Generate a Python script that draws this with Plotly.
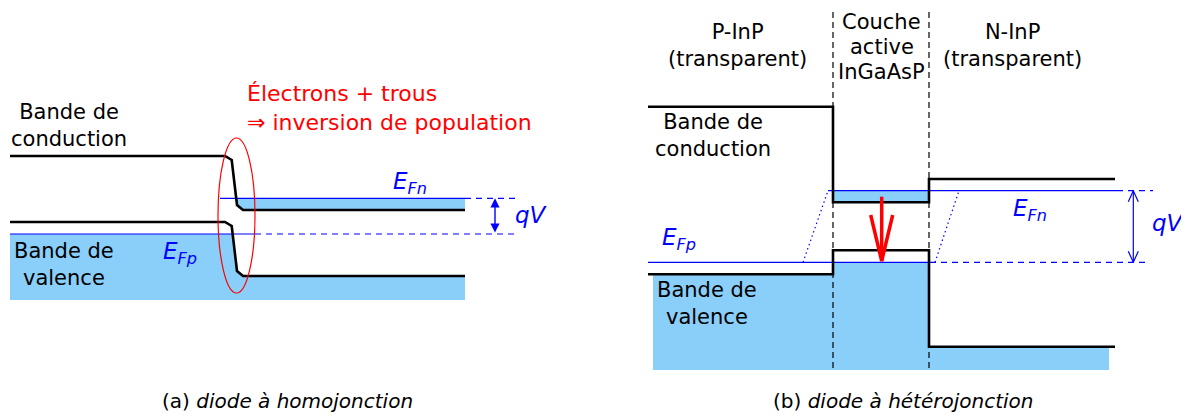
import numpy as np
import plotly.graph_objects as go

# ---------------- Panel (a): homojunction (schematic units) ----------------
a_band_x = [10, 225, 231.7, 237, 243, 465]          # break points of band profile
a_cb = [156, 156, 160, 205, 210, 210]               # conduction band level
a_vb = [222, 222, 226, 271, 276, 276]               # valence band level
a_efn = 198.3                                       # quasi-Fermi level (electrons)
a_efp = 234.0                                       # quasi-Fermi level (holes)
a_efn_x = [220, 465, 517]                           # solid start, solid end, dashed end
a_efp_x = [10, 255, 517]
a_fill_bottom = 300
a_qv_x = 495
a_ellipse = [218, 138, 255, 293]

# ---------------- Panel (b): heterojunction ----------------
b_region_x = [648, 833, 929, 1115]                  # P-InP | active | N-InP
b_cb = [106.7, 202.3, 179.0]
b_vb = [274.3, 250.3, 346.7]
b_efn = 190.7
b_efp = 262.3
b_efn_x = [828, 1117, 1153]
b_efp_x = [648, 930, 1145]
b_fill_x = [653, 1109]
b_fill_bottom = 370
b_dotted = [[803, 828], [935, 959]]                 # slanted dotted transitions (bottom x, top x)
b_qv_x = 1133.3
b_emission_x = 881.7
b_emission_y = [196.7, 261.0]
b_sep_y = [2, 370]

FILL = "#89CFFA"
BLUE = "#0000FF"
FONT = "DejaVu Sans"
PAGE_MARGIN = 8   # default body margin of the written html page

fig = go.Figure()


def poly(xs, top, bot):
    return list(xs) + list(xs[::-1]), list(top) + list(bot[::-1])


# ---- (a) fills ----
xs = np.union1d(np.linspace(a_band_x[0], a_band_x[-1], 3000), a_band_x)
vb_i = np.interp(xs, a_band_x, a_vb)
cb_i = np.interp(xs, a_band_x, a_cb)
top = np.maximum(vb_i, a_efp)
px, py = poly(xs, top, np.full_like(xs, a_fill_bottom))
fig.add_trace(go.Scatter(x=px, y=py, fill="toself", fillcolor=FILL, mode="none", hoverinfo="skip"))
m = cb_i >= a_efn
xc = xs[m]
px, py = poly(xc, np.full_like(xc, a_efn), cb_i[m])
fig.add_trace(go.Scatter(x=px, y=py, fill="toself", fillcolor=FILL, mode="none", hoverinfo="skip"))

# ---- (b) fills ----
def step(xb, levels):
    x, y = [], []
    for i, lv in enumerate(levels):
        x += [xb[i], xb[i + 1]]
        y += [lv, lv]
    return x, y

vb_top = [max(v, b_efp) for v in b_vb]
fx = [b_fill_x[0]] + b_region_x[1:3] + [b_fill_x[1]]
sx, sy = step(fx, vb_top)
fig.add_trace(go.Scatter(x=sx + [fx[-1], fx[0]], y=sy + [b_fill_bottom, b_fill_bottom],
                         fill="toself", fillcolor=FILL, mode="none", hoverinfo="skip"))
fig.add_trace(go.Scatter(x=[b_region_x[1], b_region_x[2], b_region_x[2], b_region_x[1]],
                         y=[b_efn, b_efn, b_cb[1], b_cb[1]],
                         fill="toself", fillcolor=FILL, mode="none", hoverinfo="skip"))

# ---- Fermi levels ----
def fermi(xr, y):
    fig.add_trace(go.Scatter(x=xr[:2], y=[y, y], mode="lines",
                             line=dict(color=BLUE, width=1.2), hoverinfo="skip"))
    fig.add_trace(go.Scatter(x=xr[1:], y=[y, y], mode="lines",
                             line=dict(color=BLUE, width=1.2, dash="6px,5px"), hoverinfo="skip"))

fermi(a_efn_x, a_efn)
fermi(a_efp_x, a_efp)
fermi(b_efn_x, b_efn)
fermi(b_efp_x, b_efp)
for xb, xt in b_dotted:
    fig.add_trace(go.Scatter(x=[xb, xt], y=[b_efp, b_efn], mode="lines",
                             line=dict(color=BLUE, width=1.2, dash="1.5px,3px"), hoverinfo="skip"))

# ---- separators (b) ----
for xv in b_region_x[1:3]:
    fig.add_trace(go.Scatter(x=[xv, xv], y=b_sep_y, mode="lines",
                             line=dict(color="black", width=1.2, dash="6px,4px"), hoverinfo="skip"))

# ---- band edges ----
for lv in (a_cb, a_vb):
    fig.add_trace(go.Scatter(x=a_band_x, y=lv, mode="lines",
                             line=dict(color="black", width=2.6), hoverinfo="skip"))
for lv in (b_cb, b_vb):
    sx, sy = step(b_region_x, lv)
    fig.add_trace(go.Scatter(x=sx, y=sy, mode="lines",
                             line=dict(color="black", width=2.6), hoverinfo="skip"))

# ---- qV arrows ----
fig.add_annotation(x=a_qv_x, y=a_efn, ax=a_qv_x, ay=a_efp, axref="x", ayref="y",
                   text="", showarrow=True, arrowhead=2, arrowside="end+start",
                   arrowsize=1.3, arrowwidth=1.4, arrowcolor=BLUE)

hw, hl = 5, 11
fig.add_trace(go.Scatter(x=[b_qv_x, b_qv_x], y=[b_efn, b_efp], mode="lines",
                         line=dict(color=BLUE, width=1.2), hoverinfo="skip"))
fig.add_trace(go.Scatter(x=[b_qv_x - hw, b_qv_x, b_qv_x + hw, None, b_qv_x - hw, b_qv_x, b_qv_x + hw],
                         y=[b_efn + hl, b_efn, b_efn + hl, None, b_efp - hl, b_efp, b_efp - hl],
                         mode="lines", line=dict(color=BLUE, width=1.2), hoverinfo="skip"))

# ---- emission arrow ----
ew, el = 11, 46
y0, y1 = b_emission_y
fig.add_trace(go.Scatter(x=[b_emission_x, b_emission_x], y=[y0, y1], mode="lines",
                         line=dict(color="red", width=3.5), hoverinfo="skip"))
fig.add_trace(go.Scatter(x=[b_emission_x - ew, b_emission_x, b_emission_x + ew],
                         y=[y1 - el, y1, y1 - el], mode="lines",
                         line=dict(color="red", width=3.5), hoverinfo="skip"))

# ---- ellipse ----
fig.add_shape(type="circle", xref="x", yref="y",
              x0=a_ellipse[0], y0=a_ellipse[1], x1=a_ellipse[2], y1=a_ellipse[3],
              line=dict(color="red", width=1.2))

# ---- texts ----
def txt(x, y, s, color="black", size=21, xanchor="center", align="center"):
    fig.add_annotation(x=x, y=y, text=s, showarrow=False, xanchor=xanchor, yanchor="middle",
                       align=align, font=dict(family=FONT, size=size, color=color))

txt(69, 125, "Bande de<br>conduction")
txt(64, 264, "Bande de<br>valence")
txt(245, 108, "Électrons + trous<br>⇒ inversion de population", color="red", size=22,
    xanchor="left", align="left")
txt(410, 183, "<i>E</i><sub><i>Fn</i></sub>", color=BLUE, size=23)
txt(180, 253, "<i>E</i><sub><i>Fp</i></sub>", color=BLUE, size=23)
txt(531, 215, "<i>qV</i>", color=BLUE, size=23)

txt(737, 45, "P-InP<br>(transparent)")
txt(881.5, 22, "Couche")
txt(881.5, 47, "active")
txt(881.5, 72, "InGaAsP")
txt(1012, 45, "N-InP<br>(transparent)")
txt(713, 135, "Bande de<br>conduction")
txt(707, 303, "Bande de<br>valence")
txt(1030, 210, "<i>E</i><sub><i>Fn</i></sub>", color=BLUE, size=23)
txt(679, 239, "<i>E</i><sub><i>Fp</i></sub>", color=BLUE, size=23)
txt(1168, 223, "<i>qV</i>", color=BLUE, size=23)

txt(287, 401, "(a) <i>diode à homojonction</i>", size=20)
txt(903, 401, "(b) <i>diode à hétérojonction</i>", size=20)

W, H = 1189, 416
fig.update_layout(
    width=W - PAGE_MARGIN, height=H - PAGE_MARGIN, margin=dict(l=0, r=0, t=0, b=0),
    paper_bgcolor="white", plot_bgcolor="white", showlegend=False,
    xaxis=dict(range=[PAGE_MARGIN, W], visible=False, fixedrange=True),
    yaxis=dict(range=[H, PAGE_MARGIN], visible=False, fixedrange=True),
)
fig.write_html("out.html")
